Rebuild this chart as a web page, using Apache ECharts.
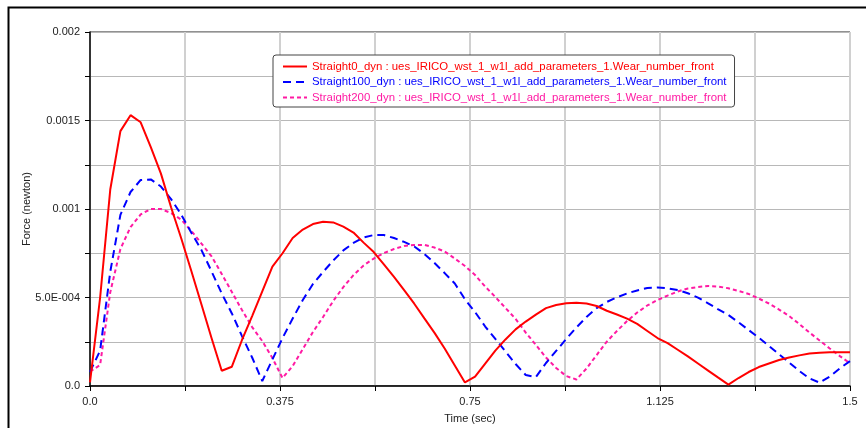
<!DOCTYPE html>
<html>
<head>
<meta charset="utf-8">
<title>Wear number front</title>
<script src="https://cdn.jsdelivr.net/npm/echarts@6/dist/echarts.min.js"></script>
<style>
  html, body { margin: 0; padding: 0; background: #fff; }
  #chart { width: 866px; height: 428px; }
</style>
</head>
<body>
<div id="chart"></div>
<script>
// Sample times (sec)
const times = [
  0.00, 0.02, 0.04, 0.06, 0.08, 0.10, 0.12, 0.14, 0.16, 0.18,
  0.20, 0.22, 0.24, 0.26, 0.28, 0.30, 0.32, 0.34, 0.36, 0.38,
  0.40, 0.42, 0.44, 0.46, 0.48, 0.50, 0.52, 0.54, 0.56, 0.58,
  0.60, 0.62, 0.64, 0.66, 0.68, 0.70, 0.72, 0.74, 0.76, 0.78,
  0.80, 0.82, 0.84, 0.86, 0.88, 0.90, 0.92, 0.94, 0.96, 0.98,
  1.00, 1.02, 1.04, 1.06, 1.08, 1.10, 1.12, 1.14, 1.16, 1.18,
  1.20, 1.22, 1.24, 1.26, 1.28, 1.30, 1.32, 1.34, 1.36, 1.38,
  1.40, 1.42, 1.44, 1.46, 1.48, 1.50
];

// Force (newton) per run
const straight0 = [
  0.2e-4, 5.0e-4, 11.1e-4, 14.4e-4, 15.3e-4, 14.9e-4, 13.5e-4, 12.0e-4, 10.1e-4, 8.35e-4,
  6.5e-4, 4.6e-4, 2.7e-4, 0.86e-4, 1.09e-4, 2.6e-4, 3.95e-4, 5.35e-4, 6.75e-4, 7.5e-4,
  8.36e-4, 8.84e-4, 9.15e-4, 9.28e-4, 9.24e-4, 9.0e-4, 8.67e-4, 8.1e-4, 7.57e-4, 6.87e-4,
  6.16e-4, 5.42e-4, 4.65e-4, 3.82e-4, 3.0e-4, 2.12e-4, 1.16e-4, 0.2e-4, 0.53e-4, 1.27e-4,
  2.0e-4, 2.63e-4, 3.2e-4, 3.64e-4, 4.03e-4, 4.4e-4, 4.58e-4, 4.68e-4, 4.71e-4, 4.66e-4,
  4.52e-4, 4.25e-4, 4.04e-4, 3.81e-4, 3.51e-4, 3.11e-4, 2.71e-4, 2.42e-4, 2.05e-4, 1.67e-4,
  1.27e-4, 0.87e-4, 0.47e-4, 0.08e-4, 0.45e-4, 0.79e-4, 1.07e-4, 1.27e-4, 1.47e-4, 1.61e-4,
  1.73e-4, 1.84e-4, 1.88e-4, 1.9e-4, 1.9e-4, 1.9e-4
];
const straight100 = [
  0.8e-4, 2.0e-4, 6.45e-4, 9.67e-4, 10.96e-4, 11.64e-4, 11.67e-4, 11.27e-4, 10.56e-4, 9.69e-4,
  8.66e-4, 7.68e-4, 6.47e-4, 5.23e-4, 4.1e-4, 2.82e-4, 1.61e-4, 0.28e-4, 1.5e-4, 2.71e-4,
  3.81e-4, 4.86e-4, 5.76e-4, 6.44e-4, 7.09e-4, 7.66e-4, 8.08e-4, 8.39e-4, 8.53e-4, 8.53e-4,
  8.36e-4, 8.14e-4, 7.88e-4, 7.46e-4, 6.95e-4, 6.38e-4, 5.79e-4, 4.9e-4, 4.18e-4, 3.36e-4,
  2.66e-4, 1.95e-4, 1.24e-4, 0.62e-4, 0.5e-4, 1.3e-4, 1.98e-4, 2.66e-4, 3.31e-4, 3.9e-4,
  4.4e-4, 4.75e-4, 5.01e-4, 5.23e-4, 5.4e-4, 5.54e-4, 5.56e-4, 5.52e-4, 5.42e-4, 5.24e-4,
  4.99e-4, 4.67e-4, 4.33e-4, 4.01e-4, 3.6e-4, 3.16e-4, 2.73e-4, 2.26e-4, 1.79e-4, 1.32e-4,
  0.85e-4, 0.43e-4, 0.19e-4, 0.53e-4, 1.0e-4, 1.41e-4
];
const straight200 = [
  0.81e-4, 1.19e-4, 5.3e-4, 7.74e-4, 8.98e-4, 9.69e-4, 10.0e-4, 10.0e-4, 9.77e-4, 9.4e-4,
  8.76e-4, 8.05e-4, 7.32e-4, 6.33e-4, 5.31e-4, 4.29e-4, 3.33e-4, 2.54e-4, 1.58e-4, 0.45e-4,
  1.13e-4, 2.09e-4, 3.05e-4, 3.9e-4, 4.8e-4, 5.59e-4, 6.27e-4, 6.81e-4, 7.2e-4, 7.51e-4,
  7.74e-4, 7.91e-4, 7.97e-4, 7.97e-4, 7.82e-4, 7.6e-4, 7.2e-4, 6.78e-4, 6.27e-4, 5.62e-4,
  5.03e-4, 4.41e-4, 3.79e-4, 3.02e-4, 2.32e-4, 1.61e-4, 1.02e-4, 0.56e-4, 0.37e-4, 0.99e-4,
  1.75e-4, 2.51e-4, 3.11e-4, 3.67e-4, 4.15e-4, 4.55e-4, 4.86e-4, 5.11e-4, 5.34e-4, 5.51e-4,
  5.59e-4, 5.65e-4, 5.62e-4, 5.52e-4, 5.37e-4, 5.2e-4, 4.94e-4, 4.66e-4, 4.32e-4, 3.95e-4,
  3.5e-4, 3.02e-4, 2.57e-4, 2.12e-4, 1.69e-4, 1.28e-4
];

const seriesNames = [
  'Straight0_dyn : ues_IRICO_wst_1_w1l_add_parameters_1.Wear_number_front',
  'Straight100_dyn : ues_IRICO_wst_1_w1l_add_parameters_1.Wear_number_front',
  'Straight200_dyn : ues_IRICO_wst_1_w1l_add_parameters_1.Wear_number_front'
];
const seriesColors = ['#ff0000', '#0000ff', '#ff1aa3'];

// Tick labels (every other tick is unlabelled)
const xTickLabels = ['0.0', '', '0.375', '', '0.75', '', '1.125', '', '1.5'];
const yTickLabels = ['0.0', '', '5.0E-004', '', '0.001', '', '0.0015', '', '0.002'];

const FONT = '"Liberation Sans", Arial, sans-serif';

function pairs(ys) {
  return times.map((t, i) => [t, ys[i]]);
}

const chart = echarts.init(document.getElementById('chart'), null, { renderer: 'canvas' });

chart.setOption({
  backgroundColor: '#ffffff',
  animation: false,
  textStyle: { fontFamily: FONT },
  graphic: [{
    type: 'rect',
    silent: true,
    shape: { x: 8.5, y: 7.5, width: 1000, height: 1000 },
    style: { fill: 'none', stroke: '#000', lineWidth: 2 }
  }],
  grid: {
    left: 90, right: 16, top: 32, bottom: 42,
    outerBoundsMode: 'none',
    containLabel: false,
    show: true, borderColor: '#222', borderWidth: 1, backgroundColor: 'transparent'
  },
  legend: {
    orient: 'vertical',
    left: 273, top: 55,
    padding: [6, 8, 4, 9],
    itemGap: 4.5,
    itemWidth: 24,
    itemHeight: 12,
    backgroundColor: '#fff',
    borderColor: '#444',
    borderWidth: 1,
    borderRadius: 3,
    // line-only legend keys (no point marker)
    itemStyle: { color: 'transparent', borderColor: 'transparent', borderWidth: 0, opacity: 0 },
    textStyle: { fontFamily: FONT, fontSize: 11.4 },
    data: seriesNames.map((n, i) => ({ name: n, textStyle: { color: seriesColors[i] } }))
  },
  xAxis: {
    type: 'value',
    min: 0, max: 1.5, interval: 0.1875,
    name: 'Time (sec)',
    nameLocation: 'middle',
    nameGap: 27,
    nameMoveOverlap: false,
    nameTextStyle: { color: '#222', fontSize: 11, fontFamily: FONT },
    axisLine: { lineStyle: { color: '#000', width: 1.5 } },
    axisTick: { show: true, length: 5, lineStyle: { color: '#000' } },
    axisLabel: {
      color: '#222', fontSize: 11, fontFamily: FONT, margin: 10,
      formatter: (v, idx) => xTickLabels[idx] ?? ''
    },
    splitLine: { show: true, lineStyle: { color: '#d0d0d0', width: 2 } }
  },
  yAxis: {
    type: 'value',
    min: 0, max: 0.002, interval: 0.00025,
    name: 'Force (newton)',
    nameLocation: 'middle',
    nameGap: 58,
    nameMoveOverlap: false,
    nameTextStyle: { color: '#222', fontSize: 11, fontFamily: FONT },
    axisLine: { show: true, lineStyle: { color: '#000', width: 1.5 } },
    axisTick: { show: true, length: 5, lineStyle: { color: '#000' } },
    axisLabel: {
      color: '#222', fontSize: 11, fontFamily: FONT, margin: 10,
      formatter: (v, idx) => yTickLabels[idx] ?? ''
    },
    splitLine: { show: true, lineStyle: { color: '#b8b8b8', width: 1 } }
  },
  series: [
    {
      name: seriesNames[0], type: 'line', symbol: 'none', data: pairs(straight0),
      lineStyle: { color: seriesColors[0], width: 2, type: 'solid' },
      itemStyle: { color: seriesColors[0] }, z: 4
    },
    {
      name: seriesNames[1], type: 'line', symbol: 'none', data: pairs(straight100),
      lineStyle: { color: seriesColors[1], width: 2, type: [8, 5] },
      itemStyle: { color: seriesColors[1] }, z: 3
    },
    {
      name: seriesNames[2], type: 'line', symbol: 'none', data: pairs(straight200),
      lineStyle: { color: seriesColors[2], width: 2, type: [4, 3] },
      itemStyle: { color: seriesColors[2] }, z: 2
    }
  ]
});
</script>
</body>
</html>
